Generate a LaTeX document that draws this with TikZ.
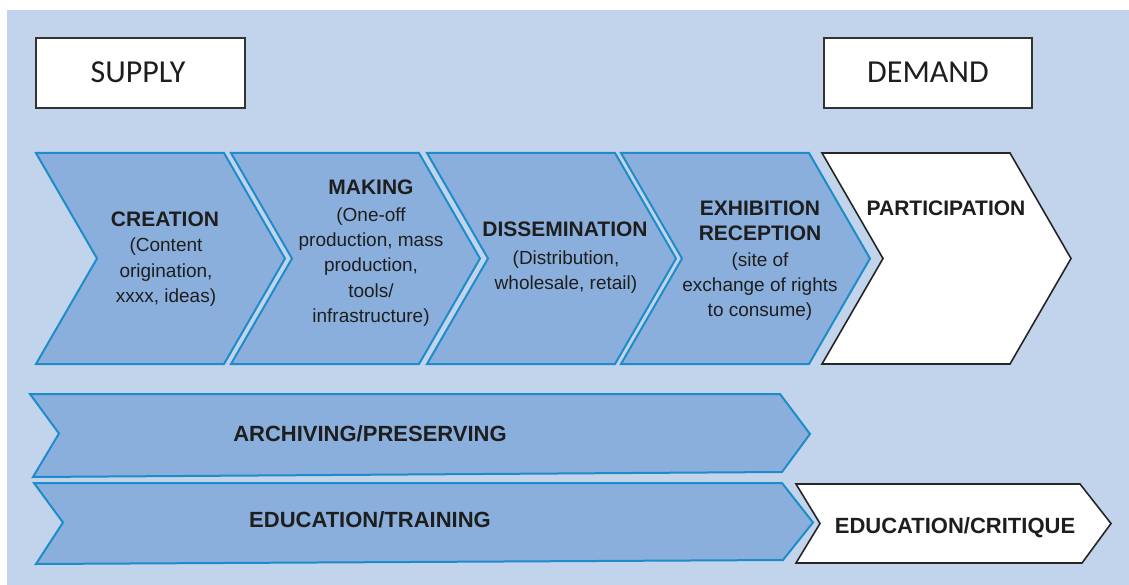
\documentclass[tikz,border=0pt]{standalone}
\usepackage{fontspec}
\setmainfont{Liberation Sans}
\newfontfamily\calfont{Carlito}
\definecolor{bgblue}{RGB}{194,212,236}
\definecolor{chevfill}{RGB}{139,175,220}
\definecolor{chevline}{RGB}{30,139,203}
\definecolor{txt}{RGB}{30,30,30}
\begin{document}
\begin{tikzpicture}[x=1pt,y=-1pt,
  chev/.style={fill=chevfill,draw=chevline,line width=2pt,line join=miter},
  wchev/.style={fill=white,draw=black!85,line width=1.6pt,line join=miter},
  hbox/.style={fill=white,draw=black!80,line width=2pt},
  ttl/.style={anchor=base,inner sep=0pt,font=\fontsize{21}{25}\selectfont\bfseries,text=txt},
  sub/.style={anchor=base,inner sep=0pt,font=\fontsize{19}{25}\selectfont,text=txt},
  bartxt/.style={anchor=base,inner sep=0pt,font=\fontsize{22}{26}\selectfont\bfseries,text=txt},
  hd/.style={anchor=base,inner sep=0pt,font=\calfont\fontsize{32}{38}\selectfont,text=txt}]
\useasboundingbox (0,0) rectangle (1129,585);
\fill[white] (0,0) rectangle (1129,585);
\fill[bgblue] (7,10) rectangle (1129,585);

% header boxes
\draw[hbox] (36,38) rectangle (245,108);
\node[hd] (supply) at (138,83) {SUPPLY};
\draw[hbox] (824,38) rectangle (1032,108);
\node[hd] (demand) at (928,83) {DEMAND};

% top chevrons
\draw[chev] (36,153) -- (224,153) -- (285,258.5) -- (224,364) -- (36,364) -- (97,258.5) -- cycle;
\draw[chev] (231,153) -- (419,153) -- (480,258.5) -- (419,364) -- (231,364) -- (292,258.5) -- cycle;
\draw[chev] (427,153) -- (615,153) -- (676,258.5) -- (615,364) -- (427,364) -- (488,258.5) -- cycle;
\draw[chev] (621,153) -- (809,153) -- (870,258.5) -- (809,364) -- (621,364) -- (682,258.5) -- cycle;
\draw[wchev] (822,153) -- (1010,153) -- (1071,258.5) -- (1010,364) -- (822,364) -- (883,258.5) -- cycle;

% CREATION
\node[ttl] (creation) at (165,227) {CREATION};
\node[sub] (cr1) at (166,252) {(Content};
\node[sub] (cr2) at (166,277) {origination,};
\node[sub] (cr3) at (166,302) {xxxx, ideas)};
% MAKING
\node[ttl] (making) at (371,195) {MAKING};
\node[sub] (mk1) at (371,222) {(One-off};
\node[sub] (mk2) at (371,247) {production, mass};
\node[sub] (mk3) at (371,272) {production,};
\node[sub] (mk4) at (371,297) {tools/};
\node[sub] (mk5) at (371,322) {infrastructure)};
% DISSEMINATION
\node[ttl] (dissem) at (565,237) {DISSEMINATION};
\node[sub] (ds1) at (566,265) {(Distribution,};
\node[sub] (ds2) at (566,290) {wholesale, retail)};
% EXHIBITION
\node[ttl] (exhib) at (760,216) {EXHIBITION};
\node[ttl] (recep) at (760,241) {RECEPTION};
\node[sub] (ex1) at (760,266) {(site of};
\node[sub] (ex2) at (760,291) {exchange of rights};
\node[sub] (ex3) at (760,316) {to consume)};
% PARTICIPATION
\node[ttl] (partic) at (946,216) {PARTICIPATION};

% bottom bars
\draw[chev] (30,394) -- (780,394) -- (810,434) -- (782,472) -- (33,477) -- (59,433.5) -- cycle;
\node[bartxt] (archiv) at (370,441.5) {ARCHIVING/PRESERVING};
\draw[chev] (34,483) -- (782,483) -- (813,522.5) -- (783,560) -- (36,564) -- (63,522.5) -- cycle;
\node[bartxt] (edutrain) at (370,527) {EDUCATION/TRAINING};
\draw[wchev] (796,484) -- (1080,484) -- (1111,523.5) -- (1082,563) -- (796,563) -- (820,523.5) -- cycle;
\node[bartxt] (educrit) at (955,533) {EDUCATION/CRITIQUE};
\end{tikzpicture}
\end{document}
